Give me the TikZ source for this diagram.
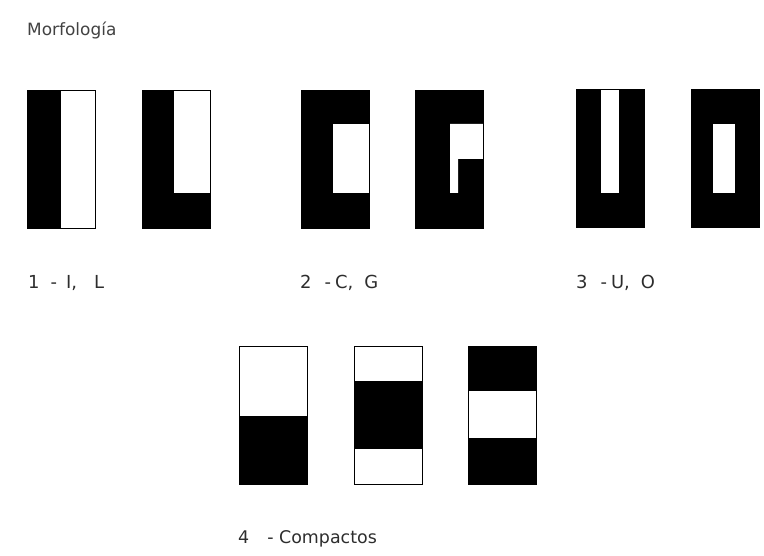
\documentclass[tikz,border=0pt]{standalone}
\usepackage{fontspec}
\usetikzlibrary{positioning}
\newfontfamily\lblfont{DejaVu Sans}
\definecolor{ink}{RGB}{45,45,45}

\tikzset{
  glyph/.style={draw=black,line width=0.8pt,anchor=north west,inner sep=0pt,
    minimum width=68bp,minimum height=138bp},
  caption/.style={anchor=base west,inner sep=0pt,text=ink,font=\lblfont\fontsize{18}{20}\selectfont},
  title/.style={anchor=base west,inner sep=0pt,text=ink!90,font=\lblfont\fontsize{17}{20}\selectfont}
}

\begin{document}
\begin{tikzpicture}[x=1bp,y=-1bp]
  \useasboundingbox (0,0) rectangle (764,556);

  % black parts first, the frames go on top
  \fill (27,90) rectangle (61,228);
  \fill (142,90) rectangle (210,228);
  \fill[white] (174,90) rectangle (210,193);
  \fill (301,90) rectangle (369,228);
  \fill[white] (333,124) rectangle (369,193);
  \fill (415,90) rectangle (483,228);
  \fill[white] (450,124) -- (483,124) -- (483,159) -- (458,159) -- (458,193) -- (450,193) -- cycle;
  \fill (576,89) rectangle (644,227);
  \fill[white] (601,89) rectangle (619,193);
  \fill (691,89) rectangle (759,227);
  \fill[white] (713,124) rectangle (735,193);
  \fill (239,416) rectangle (307,484);
  \fill (354,381) rectangle (422,449);
  \fill (468,346) rectangle (536,391);
  \fill (468,438) rectangle (536,484);

  % frames
  \foreach \n/\x/\y in {gI/27/90, gL/142/90, gC/301/90, gG/415/90,
                        gU/576/89, gO/691/89,
                        kA/239/346, kB/354/346, kC/468/346}
  {
    \node[glyph] (\n) at (\x,\y) {};
  }

  % texts
  \node[title] (ttl) at (27,36) {Morfología};
  \node[caption] (cap1) at (28,289) {1\hspace{11bp}-\hspace{9bp}I,\hspace{17bp}L};
  \node[caption] (cap2) at (300,289) {2\hspace{13bp}-\hspace{4bp}C,\hspace{11bp}G};
  \node[caption] (cap3) at (576,289) {3\hspace{13bp}-\hspace{4bp}U,\hspace{11bp}O};
  \node[caption,font=\lblfont\fontsize{17.5}{20}\selectfont] (cap4) at (238,543) {4\hspace{18bp}- Compactos};
\end{tikzpicture}
\end{document}
